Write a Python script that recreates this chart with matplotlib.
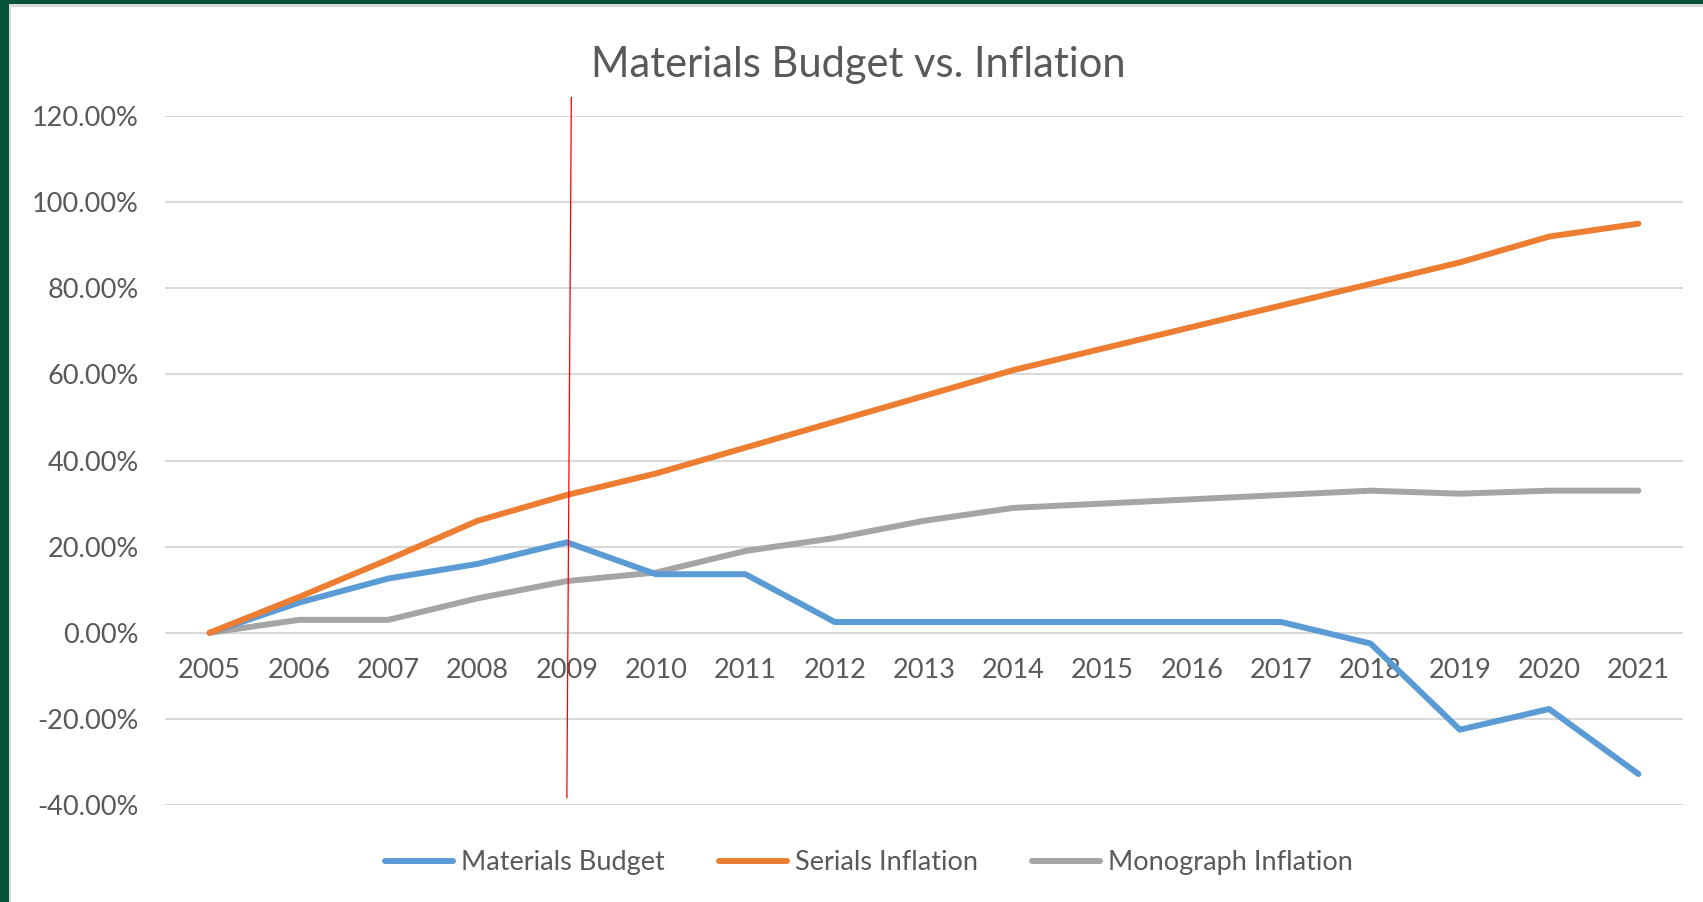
import matplotlib.pyplot as plt
from matplotlib.ticker import PercentFormatter
import numpy as np

years = ['2005', '2006', '2007', '2008', '2009', '2010', '2011', '2012', '2013',
         '2014', '2015', '2016', '2017', '2018', '2019', '2020', '2021']
materialsBudget = [0.0, 7.0, 12.6, 16.0, 21.0, 13.6, 13.6, 2.5, 2.5,
                   2.5, 2.5, 2.5, 2.5, -2.5, -22.5, -17.7, -32.8]
serialsInflation = [0.0, 8.3, 17.0, 26.0, 32.0, 37.0, 43.0, 49.0, 55.0,
                    61.0, 66.0, 71.0, 76.0, 81.0, 86.0, 92.0, 95.0]
monographInflation = [0.0, 3.0, 3.0, 8.0, 12.0, 14.0, 19.0, 22.0, 26.0,
                      29.0, 30.0, 31.0, 32.0, 33.0, 32.3, 33.0, 33.0]

# hand drawn marker line around 2009 (x index, percent)
markerX = [4.05, 4.0]
markerY = [124.3, -38.3]

plt.rcParams['font.family'] = ['Lato', 'DejaVu Sans']
plt.rcParams['axes.unicode_minus'] = False
textColor = '#595959'

fig = plt.figure(figsize=(17.03, 9.02), dpi=100)
# dark green frame on the left and top
fig.patches.append(plt.Rectangle((0, 0), 1, 1, transform=fig.transFigure,
                                 facecolor='#03523A', edgecolor='none', zorder=-3))
fig.patches.append(plt.Rectangle((9 / 1703, 0), 1, 1 - 4 / 902, transform=fig.transFigure,
                                 facecolor='#D9D9D9', edgecolor='none', zorder=-2))
fig.patches.append(plt.Rectangle((11 / 1703, 0), 1, 1 - 7 / 902, transform=fig.transFigure,
                                 facecolor='white', edgecolor='none', zorder=-1))

ax = fig.add_axes([0.0969, 0.1075, 0.8914, 0.7639])
x = np.arange(len(years))
ax.plot(x, materialsBudget, color='#5B9BD5', lw=4.3, solid_capstyle='round',
        solid_joinstyle='round', label='Materials Budget', zorder=3)
ax.plot(x, serialsInflation, color='#ED7D31', lw=4.3, solid_capstyle='round',
        solid_joinstyle='round', label='Serials Inflation', zorder=3)
ax.plot(x, monographInflation, color='#A5A5A5', lw=4.3, solid_capstyle='round',
        solid_joinstyle='round', label='Monograph Inflation', zorder=2)
ax.plot(markerX, markerY, color='red', lw=0.9, clip_on=False, zorder=4)

ax.set_xlim(-0.5, len(years) - 0.5)
ax.set_ylim(-40, 120)
ax.set_yticks(np.arange(-40, 121, 20))
ax.yaxis.set_major_formatter(PercentFormatter(decimals=2))
ax.set_xticks(x)
ax.set_xticklabels(years)
ax.grid(axis='y', color='#D9D9D9', lw=1.5)
ax.set_axisbelow(True)
for s in ax.spines.values():
    s.set_visible(False)
# category labels sit just under the 0% line
ax.spines['bottom'].set_position(('data', 0))
ax.tick_params(length=0, labelsize=19.5, colors=textColor)
ax.tick_params(axis='y', pad=19)
ax.tick_params(axis='x', pad=18)

fig.text(858 / 1703, 1 - 65 / 902, 'Materials Budget vs. Inflation', ha='center', va='center',
         fontsize=30, color=textColor)
ax.legend(loc='center', bbox_to_anchor=(0.4638, -0.084), ncol=3, frameon=False,
          fontsize=19.5, labelcolor=textColor, handlelength=2.5, handletextpad=0.3,
          columnspacing=2.0)

plt.savefig('out.png', dpi=100)
